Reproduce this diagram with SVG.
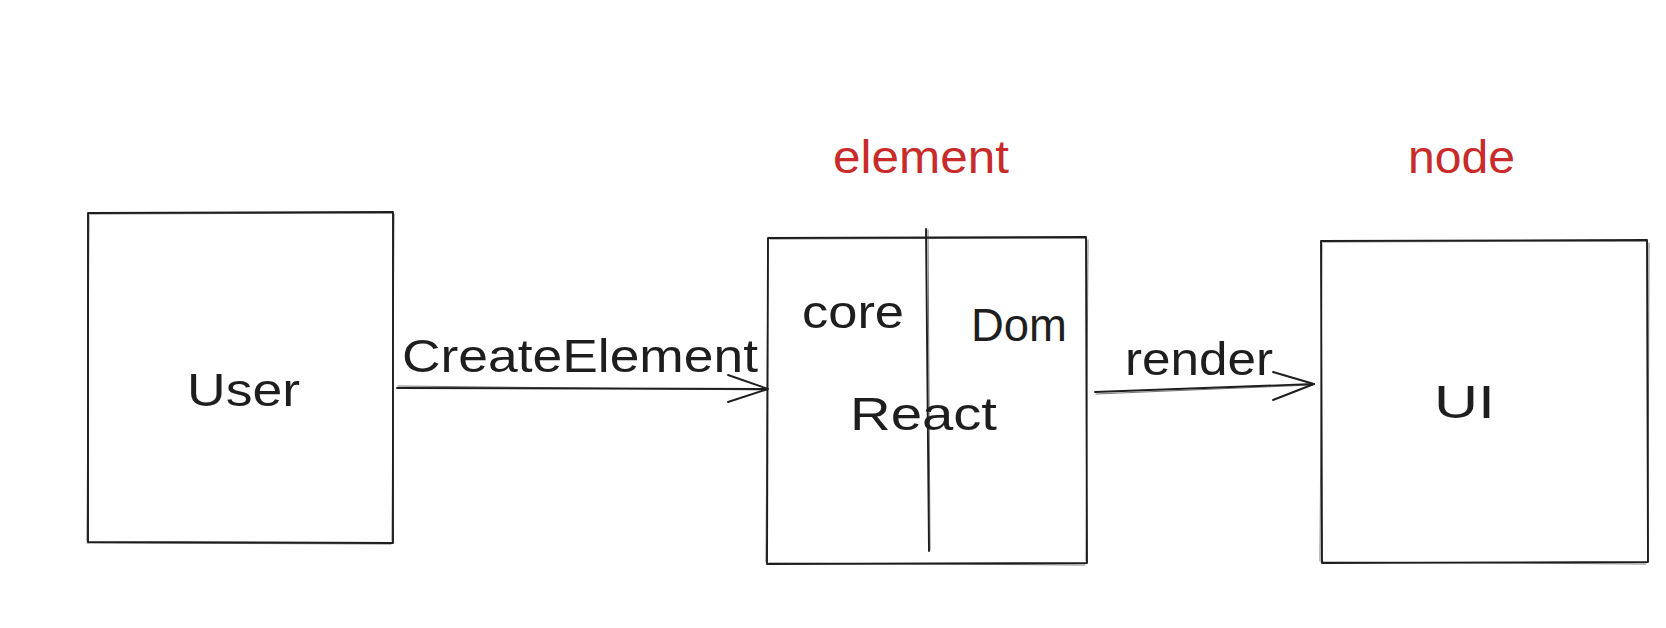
<svg xmlns="http://www.w3.org/2000/svg" width="1666" height="628" viewBox="0 0 1666 628">
  <style>
    .sk { fill: none; stroke: #1e1e1e; stroke-width: 1.9; stroke-linecap: round; stroke-linejoin: round; }
    .sk2 { fill: none; stroke: #1e1e1e; stroke-width: 1; stroke-linecap: round; opacity: 0.6; }
    .lbl { font-family: "Liberation Sans", "DejaVu Sans", sans-serif; font-size: 46px; fill: #1e1e1e; }
    .red { font-family: "Liberation Sans", "DejaVu Sans", sans-serif; font-size: 46px; fill: #c92a2a; }
  </style>
  <rect x="0" y="0" width="1666" height="628" fill="#ffffff"/>

  <g id="user">
    <path class="sk" d="M88 213 L393 212 L393 543 L88 542 Z"/>
    <path class="sk2" d="M90 214 L392 213 M394 214 L392 541 M391 544 L87 543 M87 541 L89 215"/>
    <text class="lbl" x="187" y="406" textLength="113" lengthAdjust="spacingAndGlyphs">User</text>
  </g>

  <g id="react">
    <path class="sk" d="M768 238 L1086 237 L1087 563 L767 564 Z"/>
    <path class="sk2" d="M770 239 L1085 238 M1088 240 L1086 561 M1085 565 L769 563 M766 562 L768 240"/>
    <path class="sk" d="M926 229 L929 551"/>
    <path class="sk2" d="M928 230 L930 550"/>
    <text class="lbl" x="802" y="328" textLength="102" lengthAdjust="spacingAndGlyphs">core</text>
    <text class="lbl" x="971" y="341" textLength="96" lengthAdjust="spacingAndGlyphs">Dom</text>
    <text class="lbl" x="850" y="430" textLength="147" lengthAdjust="spacingAndGlyphs">React</text>
    <text class="red" x="833" y="173" textLength="176" lengthAdjust="spacingAndGlyphs">element</text>
  </g>

  <g id="ui">
    <path class="sk" d="M1321 241 L1647 240 L1648 562 L1322 563 Z"/>
    <path class="sk2" d="M1323 242 L1646 241 M1649 243 L1648 561 M1646 564 L1321 562 M1320 561 L1322 243"/>
    <text class="lbl" x="1434" y="418" textLength="61" lengthAdjust="spacingAndGlyphs">UI</text>
    <text class="red" x="1408" y="173" textLength="107" lengthAdjust="spacingAndGlyphs">node</text>
  </g>

  <g id="connectors">
    <g id="createElement">
      <path class="sk" d="M397 388 L767 389"/>
      <path class="sk2" d="M398 386 L765 390"/>
      <path class="sk" d="M728 375 L768 389 L728 402"/>
      <text class="lbl" x="402" y="372" textLength="356" lengthAdjust="spacingAndGlyphs">CreateElement</text>
    </g>
    <g id="render">
      <path class="sk" d="M1095 392 L1314 384"/>
      <path class="sk2" d="M1096 394 L1312 385"/>
      <path class="sk" d="M1273 372 L1314 384 L1273 400"/>
      <text class="lbl" x="1125" y="375" textLength="148" lengthAdjust="spacingAndGlyphs">render</text>
    </g>
  </g>
</svg>
